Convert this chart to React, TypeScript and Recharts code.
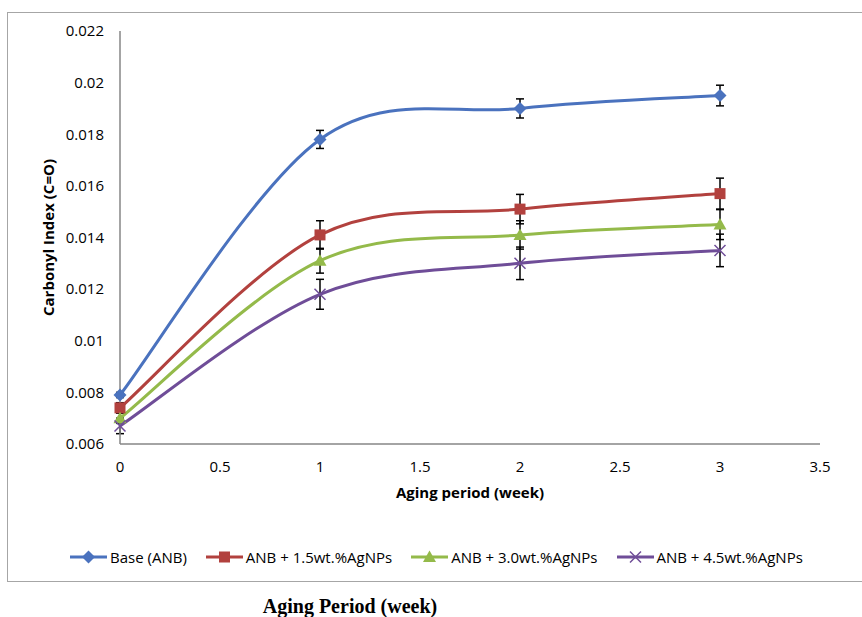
import React from 'react';
import { LineChart, Line, XAxis, YAxis, ErrorBar, Legend } from 'recharts';

// aging period (weeks)
const weeks = [0, 1, 2, 3];

// carbonyl index values
const baseAnb = [0.0079, 0.0178, 0.019, 0.0195];
const anb15 = [0.0074, 0.0141, 0.0151, 0.0157];
const anb30 = [0.007, 0.0131, 0.0141, 0.0145];
const anb45 = [0.0067, 0.0118, 0.013, 0.0135];

// error bar half-heights
const baseAnbErr = [0.0001, 0.00035, 0.00037, 0.0004];
const anb15Err = [0.0002, 0.00055, 0.00057, 0.0006];
const anb30Err = [0.0002, 0.00048, 0.00055, 0.00058];
const anb45Err = [0.0003, 0.00058, 0.00063, 0.00063];

const xTicks = [0, 0.5, 1, 1.5, 2, 2.5, 3, 3.5];
const yTicks = [0.006, 0.008, 0.01, 0.012, 0.014, 0.016, 0.018, 0.02, 0.022];

const data = weeks.map((w, i) => ({
  week: w,
  base: baseAnb[i],
  baseErr: baseAnbErr[i],
  np15: anb15[i],
  np15Err: anb15Err[i],
  np30: anb30[i],
  np30Err: anb30Err[i],
  np45: anb45[i],
  np45Err: anb45Err[i],
}));

const FONT = '"Open Sans", sans-serif';

type Shape = 'diamond' | 'square' | 'triangle' | 'cross';

const series: { key: string; name: string; color: string; shape: Shape }[] = [
  { key: 'base', name: 'Base (ANB)', color: '#4A72BE', shape: 'diamond' },
  { key: 'np15', name: 'ANB + 1.5wt.%AgNPs', color: '#B2413E', shape: 'square' },
  { key: 'np30', name: 'ANB + 3.0wt.%AgNPs', color: '#94BA4A', shape: 'triangle' },
  { key: 'np45', name: 'ANB + 4.5wt.%AgNPs', color: '#6F4D98', shape: 'cross' },
];

// Excel-like smoothing (Catmull-Rom to bezier)
const excelSmooth: any = (context: any) => {
  let pts: number[][] = [];
  return {
    areaStart() {},
    areaEnd() {},
    lineStart() {
      pts = [];
    },
    point(x: number, y: number) {
      pts.push([+x, +y]);
    },
    lineEnd() {
      if (!pts.length) return;
      context.moveTo(pts[0][0], pts[0][1]);
      for (let i = 0; i < pts.length - 1; i++) {
        const p0 = pts[i - 1] ?? pts[i];
        const p1 = pts[i];
        const p2 = pts[i + 1];
        const p3 = pts[i + 2] ?? p2;
        context.bezierCurveTo(
          p1[0] + (p2[0] - p0[0]) / 6,
          p1[1] + (p2[1] - p0[1]) / 6,
          p2[0] - (p3[0] - p1[0]) / 6,
          p2[1] - (p3[1] - p1[1]) / 6,
          p2[0],
          p2[1]
        );
      }
    },
  };
};

function Marker({ cx, cy, shape, color }: { cx: number; cy: number; shape: Shape; color: string }) {
  if (shape === 'diamond') {
    return <path d={`M${cx},${cy - 6.5}L${cx + 6.5},${cy}L${cx},${cy + 6.5}L${cx - 6.5},${cy}Z`} fill={color} />;
  }
  if (shape === 'square') {
    return <rect x={cx - 5.5} y={cy - 5.5} width={11} height={11} fill={color} />;
  }
  if (shape === 'triangle') {
    return <path d={`M${cx},${cy - 6.5}L${cx + 6.5},${cy + 5}L${cx - 6.5},${cy + 5}Z`} fill={color} />;
  }
  return (
    <path
      d={`M${cx - 5.5},${cy - 5.5}L${cx + 5.5},${cy + 5.5}M${cx - 5.5},${cy + 5.5}L${cx + 5.5},${cy - 5.5}`}
      stroke={color}
      strokeWidth={1.5}
      fill="none"
    />
  );
}

const makeDot = (shape: Shape, color: string) => (props: any) => {
  const { cx, cy, index } = props;
  if (cx == null || cy == null) return <g key={index} />;
  return <Marker key={index} cx={cx} cy={cy} shape={shape} color={color} />;
};

const LegendContent = () => (
  <div
    style={{
      display: 'flex',
      justifyContent: 'flex-start',
      paddingLeft: 40,
      fontFamily: FONT,
      fontSize: 15,
      color: '#000',
      alignItems: 'center',
      height: 30,
      width: 862,
      whiteSpace: 'nowrap',
    }}
  >
    {series.map((s) => (
      <div key={s.key} style={{ display: 'flex', alignItems: 'center', marginRight: 19, flexShrink: 0 }}>
        <svg width={37} height={14} style={{ marginRight: 3, flexShrink: 0 }}>
          <line x1={0} y1={7} x2={37} y2={7} stroke={s.color} strokeWidth={3} />
          <Marker cx={18.5} cy={7} shape={s.shape} color={s.color} />
        </svg>
        <span style={{ whiteSpace: 'nowrap' }}>{s.name}</span>
      </div>
    ))}
  </div>
);

const YTitle = ({ viewBox }: any) => {
  const x = viewBox.x + 18;
  const y = viewBox.y + viewBox.height / 2;
  return (
    <text
      x={x}
      y={y}
      transform={`rotate(-90, ${x}, ${y})`}
      textAnchor="middle"
      dominantBaseline="central"
      fontFamily={FONT}
      fontWeight={700}
      fontSize={15}
      fill="#000"
    >
      Carbonyl Index (C=O)
    </text>
  );
};

const XTitle = ({ viewBox }: any) => (
  <text
    x={viewBox.x + viewBox.width / 2}
    y={viewBox.y + 54}
    textAnchor="middle"
    fontFamily={FONT}
    fontWeight={700}
    fontSize={15}
    fill="#000"
  >
    Aging period (week)
  </text>
);

export default function App() {
  return (
    <div style={{ position: 'absolute', left: 0, top: 0, width: 862, height: 617, background: '#fff', overflow: 'hidden' }}>
      <div
        style={{
          position: 'absolute',
          left: 7,
          top: 12,
          width: 880,
          height: 568,
          border: '1px solid #a6a6a6',
        }}
      />
      <div style={{ position: 'absolute', left: 0, top: 0 }}>
        <LineChart width={862} height={590} data={data} margin={{ top: 31, right: 42, left: 30, bottom: 18 }}>
          <XAxis
            dataKey="week"
            type="number"
            domain={[0, 3.5]}
            ticks={xTicks}
            tickLine={false}
            axisLine={{ stroke: '#868686', strokeWidth: 1.5 }}
            tick={{ fontFamily: FONT, fontSize: 15, fill: '#000' }}
            tickMargin={11}
            height={98}
            label={<XTitle />}
          />
          <YAxis
            type="number"
            domain={[0.006, 0.022]}
            ticks={yTicks}
            tickLine={false}
            axisLine={{ stroke: '#868686', strokeWidth: 1.5 }}
            tick={{ fontFamily: FONT, fontSize: 15, fill: '#000' }}
            tickMargin={10}
            width={90}
            label={<YTitle />}
          />
          <Legend
            verticalAlign="bottom"
            height={30}
            content={<LegendContent />}
            wrapperStyle={{ left: 30, width: 862, overflow: 'visible' }}
          />
          {series.map((s) => (
            <Line
              key={s.key}
              dataKey={s.key}
              name={s.name}
              type={excelSmooth}
              stroke={s.color}
              strokeWidth={3}
              dot={makeDot(s.shape, s.color)}
              activeDot={false}
              isAnimationActive={false}
            >
              <ErrorBar dataKey={`${s.key}Err`} direction="y" width={4} stroke="#000" strokeWidth={1.5} />
            </Line>
          ))}
        </LineChart>
      </div>
      <div
        style={{
          position: 'absolute',
          left: 0,
          width: 700,
          top: 596,
          height: 20,
          lineHeight: '20px',
          textAlign: 'center',
          fontFamily: '"Liberation Serif", "Times New Roman", serif',
          fontWeight: 700,
          fontSize: 20,
        }}
      >
        Aging Period (week)
      </div>
    </div>
  );
}
